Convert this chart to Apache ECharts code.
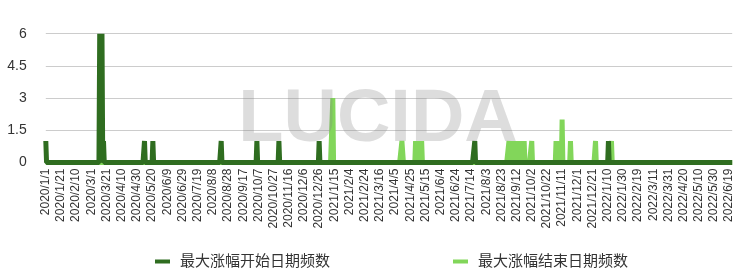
<!DOCTYPE html>
<html>
<head>
<meta charset="utf-8">
<script src="https://cdn.jsdelivr.net/npm/echarts@6/dist/echarts.min.js"></script>
<style>
html,body{margin:0;padding:0;background:#fff;}
#chart{width:756px;height:276px;}
</style>
</head>
<body>
<div id="chart"></div>
<script>
// ---- data ----
const startDate = '2020/1/1';
const dayCount = 905;            // 2020/1/1 .. 2022/6/23, one category per calendar day
const seriesNames = ['最大涨幅开始日期频数', '最大涨幅结束日期频数'];

// non-zero days of the start-date series
const startDates = ['2020/1/1','2020/3/12','2020/3/15','2020/3/17','2020/5/10','2020/5/21','2020/8/19',
  '2020/10/5','2020/11/3','2020/12/26','2021/7/19','2022/1/11'];
const startValues = [1,6,6,1,1,1,1,1,1,1,1,1];

// non-zero days of the end-date series
const endDates = ['2021/1/13','2021/4/14','2021/4/15','2021/5/2','2021/5/4','2021/5/6','2021/5/8','2021/5/10',
  '2021/9/2','2021/9/4','2021/9/6','2021/9/8','2021/9/10','2021/9/12','2021/9/14','2021/9/16','2021/9/18',
  '2021/9/20','2021/9/22','2021/10/2','2021/11/3','2021/11/5','2021/11/7','2021/11/9','2021/11/11',
  '2021/11/22','2021/12/25','2022/1/15'];
const endValues = [3,1,1,1,1,1,1,1,
  1,1,1,1,1,1,1,1,1,
  1,1,1,1,1,1,1,2,
  1,1,1];

const yTicks = [0, 1.5, 3, 4.5, 6];
const watermark = 'LUCIDA';

// ---- build categories & series ----
function fmt(d){ return d.getUTCFullYear() + '/' + (d.getUTCMonth()+1) + '/' + d.getUTCDate(); }
const p = startDate.split('/').map(Number);
const t0 = Date.UTC(p[0], p[1]-1, p[2]);
const categories = [];
for (let i = 0; i < dayCount; i++) categories.push(fmt(new Date(t0 + i*86400000)));
function buildSeries(dates, vals){
  const map = {};
  dates.forEach((d,i)=>{ map[d] = vals[i]; });
  return categories.map(c => (c in map) ? map[c] : 0);
}
const startSeries = buildSeries(startDates, startValues);
const endSeries = buildSeries(endDates, endValues);

const FONT = '"Liberation Sans", Arial, "Noto Sans CJK SC", sans-serif';
const DARK = '#2f6d20';
const LIGHT = '#82d65a';

const chart = echarts.init(document.getElementById('chart'), null, {renderer:'canvas'});
chart.setOption({
  animation: false,
  textStyle: {fontFamily: FONT},
  grid: {left: 45.8, right: 23.8, top: 33.7, bottom: 113.5},
  xAxis: {
    type: 'category', data: categories, boundaryGap: false,
    axisLine: {show: false}, axisTick: {show: false},
    axisLabel: {interval: 19, rotate: 90, fontSize: 12, color: '#333', margin: 6, fontFamily: FONT}
  },
  yAxis: {
    type: 'value', min: yTicks[0], max: yTicks[yTicks.length-1], interval: yTicks[1]-yTicks[0],
    axisLine: {show: false}, axisTick: {show: false},
    axisLabel: {fontSize: 14, color: '#333', margin: 19, fontFamily: FONT},
    splitLine: {lineStyle: {color: '#cccccc', width: 1}}
  },
  legend: [
    {data: [seriesNames[0]], left: 150, top: 249, icon: 'rect', itemWidth: 15, itemHeight: 4,
     textStyle: {fontSize: 15, color: '#333', fontFamily: FONT, padding: [0,0,0,5]}},
    {data: [seriesNames[1]], left: 448, top: 249, icon: 'rect', itemWidth: 15, itemHeight: 4,
     textStyle: {fontSize: 15, color: '#333', fontFamily: FONT, padding: [0,0,0,5]}}
  ],
  series: [
    {name: seriesNames[0], type: 'line', data: startSeries, symbol: 'none', showSymbol: false, z: 3,
     lineStyle: {width: 5, color: DARK}, itemStyle: {color: DARK}, areaStyle: {color: DARK, opacity: 1}},
    {name: seriesNames[1], type: 'line', data: endSeries, symbol: 'none', showSymbol: false, z: 2,
     lineStyle: {width: 5, color: LIGHT}, itemStyle: {color: LIGHT}, areaStyle: {color: LIGHT, opacity: 1}}
  ],
  graphic: [{
    type: 'text', x: 378, y: 121, z: 100, silent: true,
    style: {text: watermark, font: 'bold 74px "Liberation Sans", Arial, sans-serif',
            fill: 'rgba(128,128,128,0.27)', align: 'center', verticalAlign: 'middle'}
  }]
});
</script>
</body>
</html>
